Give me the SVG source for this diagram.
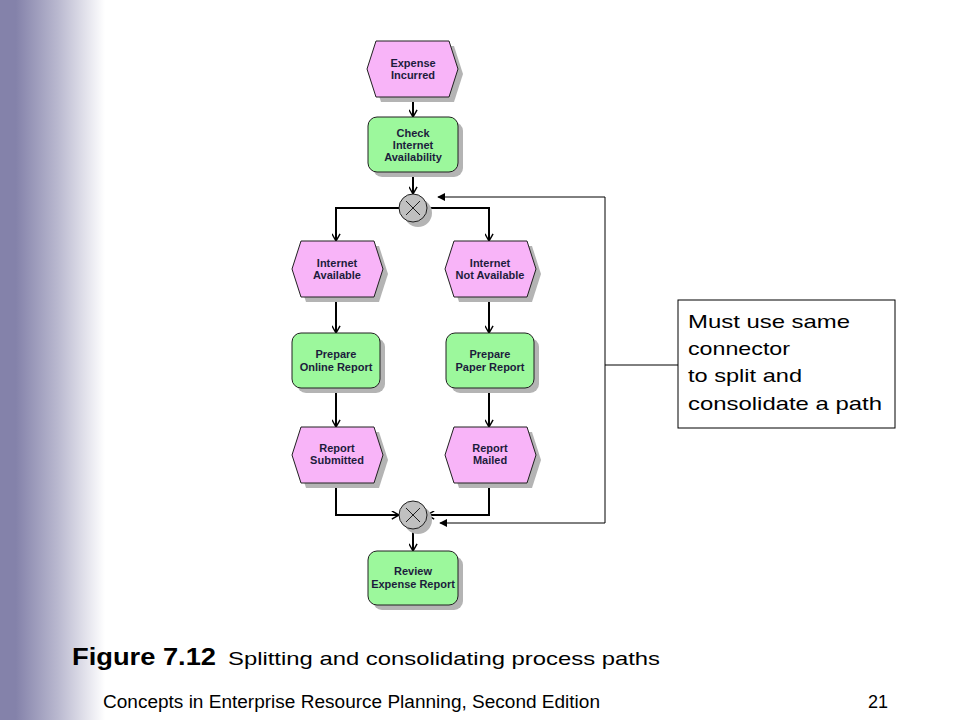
<svg xmlns="http://www.w3.org/2000/svg" width="960" height="720" viewBox="0 0 960 720">
<defs>
<linearGradient id="side" x1="0" y1="0" x2="1" y2="0">
<stop offset="0" stop-color="#8482aa"/>
<stop offset="0.15" stop-color="#8482aa"/>
<stop offset="0.55" stop-color="#b9b8cf"/>
<stop offset="1" stop-color="#ffffff"/>
</linearGradient>
<marker id="chev" viewBox="0 0 10 10" refX="9" refY="5" markerWidth="9" markerHeight="9" markerUnits="userSpaceOnUse" orient="auto">
<path d="M1,0.5 L9,5 L1,9.5" fill="none" stroke="#000" stroke-width="1.6"/>
</marker>
<marker id="tri" viewBox="0 0 10 10" refX="9" refY="5" markerWidth="8" markerHeight="8" markerUnits="userSpaceOnUse" orient="auto">
<path d="M0,0 L10,5 L0,10 Z" fill="#000"/>
</marker>
</defs>
<style>
.ev{fill:#f8b4f8;stroke:#202020;stroke-width:1}
.fn{fill:#9cf89c;stroke:#202020;stroke-width:1}
.sh{fill:#b4b4b4}
.gw{fill:#c0c0c0;stroke:#202020;stroke-width:1}
.lbl{font-family:"Liberation Sans",Arial,sans-serif;font-weight:bold;font-size:11px;fill:#1c1c3c;text-anchor:middle}
.flow{fill:none;stroke:#000;stroke-width:2}
.fb{fill:none;stroke:#000;stroke-width:1}
</style>
<rect x="0" y="0" width="960" height="720" fill="#ffffff"/>
<rect x="0" y="0" width="105" height="720" fill="url(#side)"/>

<g id="connectors">
<path class="flow" d="M413,97 V117" marker-end="url(#chev)"/>
<path class="flow" d="M413,172 V194" marker-end="url(#chev)"/>
<path class="flow" d="M399,208 H336 V241" marker-end="url(#chev)"/>
<path class="flow" d="M427,208 H489 V241" marker-end="url(#chev)"/>
<path class="flow" d="M336,297 V333" marker-end="url(#chev)"/>
<path class="flow" d="M489,297 V333" marker-end="url(#chev)"/>
<path class="flow" d="M336,388 V427" marker-end="url(#chev)"/>
<path class="flow" d="M489,388 V427" marker-end="url(#chev)"/>
<path class="flow" d="M336,482 V515 H399" marker-end="url(#chev)"/>
<path class="flow" d="M489,482 V515 H427" marker-end="url(#chev)"/>
<path class="flow" d="M413,529 V551" marker-end="url(#chev)"/>
<path class="fb" d="M605,197 H438" marker-end="url(#tri)"/>
<path class="fb" d="M605,197 V523 H440" marker-end="url(#tri)"/>
<path class="fb" d="M605,365 H678"/>
</g>

<g id="expense-incurred">
<polygon class="sh" points="372,74 381,46 454,46 463,74 454,102 381,102"/>
<polygon class="ev" points="367,69 376,41 449,41 458,69 449,97 376,97"/>
<text class="lbl" x="413" y="67">Expense</text>
<text class="lbl" x="413" y="79">Incurred</text>
</g>

<g id="check-internet">
<rect class="sh" x="373" y="122" width="90" height="55" rx="9"/>
<rect class="fn" x="368" y="117" width="90" height="55" rx="9"/>
<text class="lbl" x="413" y="137">Check</text>
<text class="lbl" x="413" y="149">Internet</text>
<text class="lbl" x="413" y="161">Availability</text>
</g>

<g id="xor-split">
<circle class="sh" cx="418" cy="213" r="14"/>
<circle class="gw" cx="413" cy="208" r="14"/>
<path d="M406,201 L420,215 M420,201 L406,215" stroke="#202020" stroke-width="1" fill="none"/>
</g>

<g id="internet-available">
<polygon class="sh" points="297,274 306,246 379,246 388,274 379,302 306,302"/>
<polygon class="ev" points="292,269 301,241 374,241 383,269 374,297 301,297"/>
<text class="lbl" x="337" y="267">Internet</text>
<text class="lbl" x="337" y="279">Available</text>
</g>

<g id="internet-not-available">
<polygon class="sh" points="450,274 459,246 532,246 541,274 532,302 459,302"/>
<polygon class="ev" points="445,269 454,241 527,241 536,269 527,297 454,297"/>
<text class="lbl" x="490" y="267">Internet</text>
<text class="lbl" x="490" y="279">Not Available</text>
</g>

<g id="prepare-online">
<rect class="sh" x="297" y="338" width="88" height="55" rx="9"/>
<rect class="fn" x="292" y="333" width="88" height="55" rx="9"/>
<text class="lbl" x="336" y="358">Prepare</text>
<text class="lbl" x="336" y="371">Online Report</text>
</g>

<g id="prepare-paper">
<rect class="sh" x="451" y="338" width="88" height="55" rx="9"/>
<rect class="fn" x="446" y="333" width="88" height="55" rx="9"/>
<text class="lbl" x="490" y="358">Prepare</text>
<text class="lbl" x="490" y="371">Paper Report</text>
</g>

<g id="report-submitted">
<polygon class="sh" points="297,460 306,432 379,432 388,460 379,488 306,488"/>
<polygon class="ev" points="292,455 301,427 374,427 383,455 374,483 301,483"/>
<text class="lbl" x="337" y="452">Report</text>
<text class="lbl" x="337" y="464">Submitted</text>
</g>

<g id="report-mailed">
<polygon class="sh" points="450,460 459,432 532,432 541,460 532,488 459,488"/>
<polygon class="ev" points="445,455 454,427 527,427 536,455 527,483 454,483"/>
<text class="lbl" x="490" y="452">Report</text>
<text class="lbl" x="490" y="464">Mailed</text>
</g>

<g id="xor-join">
<circle class="sh" cx="418" cy="520" r="14"/>
<circle class="gw" cx="413" cy="515" r="14"/>
<path d="M406,508 L420,522 M420,508 L406,522" stroke="#202020" stroke-width="1" fill="none"/>
</g>

<g id="review-expense">
<rect class="sh" x="373" y="556" width="90" height="54" rx="9"/>
<rect class="fn" x="368" y="551" width="90" height="54" rx="9"/>
<text class="lbl" x="413" y="575">Review</text>
<text class="lbl" x="413" y="588">Expense Report</text>
</g>

<g id="note">
<rect x="678" y="300" width="217" height="128" fill="#ffffff" stroke="#000" stroke-width="1"/>
<g font-family="'Liberation Sans',Arial,sans-serif" font-size="19px" fill="#000">
<text x="688" y="328" textLength="162" lengthAdjust="spacingAndGlyphs">Must use same</text>
<text x="688" y="355" textLength="102" lengthAdjust="spacingAndGlyphs">connector</text>
<text x="688" y="382" textLength="114" lengthAdjust="spacingAndGlyphs">to split and</text>
<text x="688" y="410" textLength="194" lengthAdjust="spacingAndGlyphs">consolidate a path</text>
</g>
</g>

<g id="caption" font-family="'Liberation Sans',Arial,sans-serif" fill="#000">
<text x="72" y="665" font-size="24px" font-weight="bold" textLength="144" lengthAdjust="spacingAndGlyphs">Figure 7.12</text>
<text x="228" y="665" font-size="19px" textLength="432" lengthAdjust="spacingAndGlyphs">Splitting and consolidating process paths</text>
<text x="103" y="708" font-size="18px" textLength="497" lengthAdjust="spacingAndGlyphs">Concepts in Enterprise Resource Planning, Second Edition</text>
<text x="868" y="708" font-size="18px">21</text>
</g>
</svg>
